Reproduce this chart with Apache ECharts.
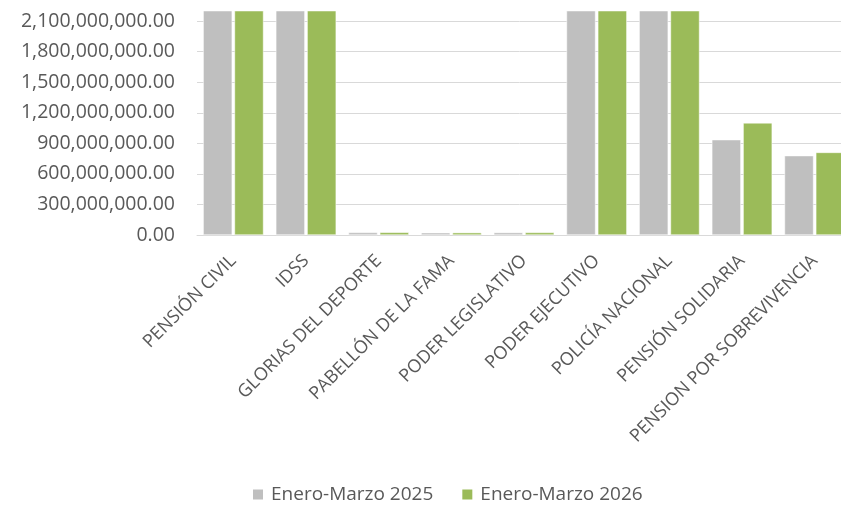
<!DOCTYPE html>
<html><head><meta charset="utf-8">
<script src="https://cdn.jsdelivr.net/npm/echarts@6/dist/echarts.min.js"></script>
<style>html,body{margin:0;padding:0;background:#fff}#c{width:841px;height:507px}</style>
</head><body><div id="c"></div>
<script>
const categories = ["PENSIÓN CIVIL","IDSS","GLORIAS DEL DEPORTE","PABELLÓN DE LA FAMA","PODER LEGISLATIVO","PODER EJECUTIVO","POLICÍA NACIONAL","PENSIÓN SOLIDARIA","PENSION POR SOBREVIVENCIA"];
const seriesNames = ["Enero-Marzo 2025","Enero-Marzo 2026"];
const values2025 = [2600000000, 2500000000, 25000000, 22000000, 24000000, 2700000000, 2450000000, 936000000, 779000000];
const values2026 = [2700000000, 2550000000, 26000000, 23000000, 25000000, 2800000000, 2500000000, 1101000000, 811000000];
const yTicks = [0, 300000000, 600000000, 900000000, 1200000000, 1500000000, 1800000000, 2100000000];

const chart = echarts.init(document.getElementById('c'), null, {renderer:'canvas'});
const font = '"Open Sans", sans-serif';
function fmt(v){
  return Number(v).toLocaleString('en-US',{minimumFractionDigits:2,maximumFractionDigits:2});
}
chart.setOption({
  animation:false,
  grid:{left:197, width:654, top:11, bottom:272, containLabel:false, outerBoundsMode:'none'},
  legend:{
    top:480, left:246, itemWidth:12, itemHeight:12, itemGap:27,
    icon:'rect',
    textStyle:{color:'#595959', fontSize:19, fontFamily:font, padding:[0,0,0,2]},
    data:seriesNames
  },
  xAxis:{
    type:'category', data:categories,
    axisLine:{show:true, lineStyle:{color:'#D9D9D9', width:1}},
    axisTick:{show:false},
    axisLabel:{rotate:45, interval:0, color:'#595959', fontSize:18, fontFamily:font, margin:23}
  },
  yAxis:{
    type:'value', min:0, max:2200000000, interval:300000000,
    axisLine:{show:false}, axisTick:{show:false},
    splitLine:{show:true, showMaxLine:false, lineStyle:{color:'#D9D9D9', width:1}},
    axisLabel:{
      color:'#595959', fontSize:19.5, fontFamily:font, margin:22,
      formatter:function(v){ return yTicks.indexOf(v) >= 0 ? fmt(v) : ''; }
    }
  },
  series:[
    {name:seriesNames[0], type:'bar', data:values2025, barWidth:29, barGap:'8%',
     itemStyle:{color:'#BFBFBF', borderColor:'#ffffff', borderWidth:0.5}},
    {name:seriesNames[1], type:'bar', data:values2026, barWidth:29, barGap:'8%',
     itemStyle:{color:'#9BBB59', borderColor:'#ffffff', borderWidth:0.5}}
  ]
});
</script></body></html>
